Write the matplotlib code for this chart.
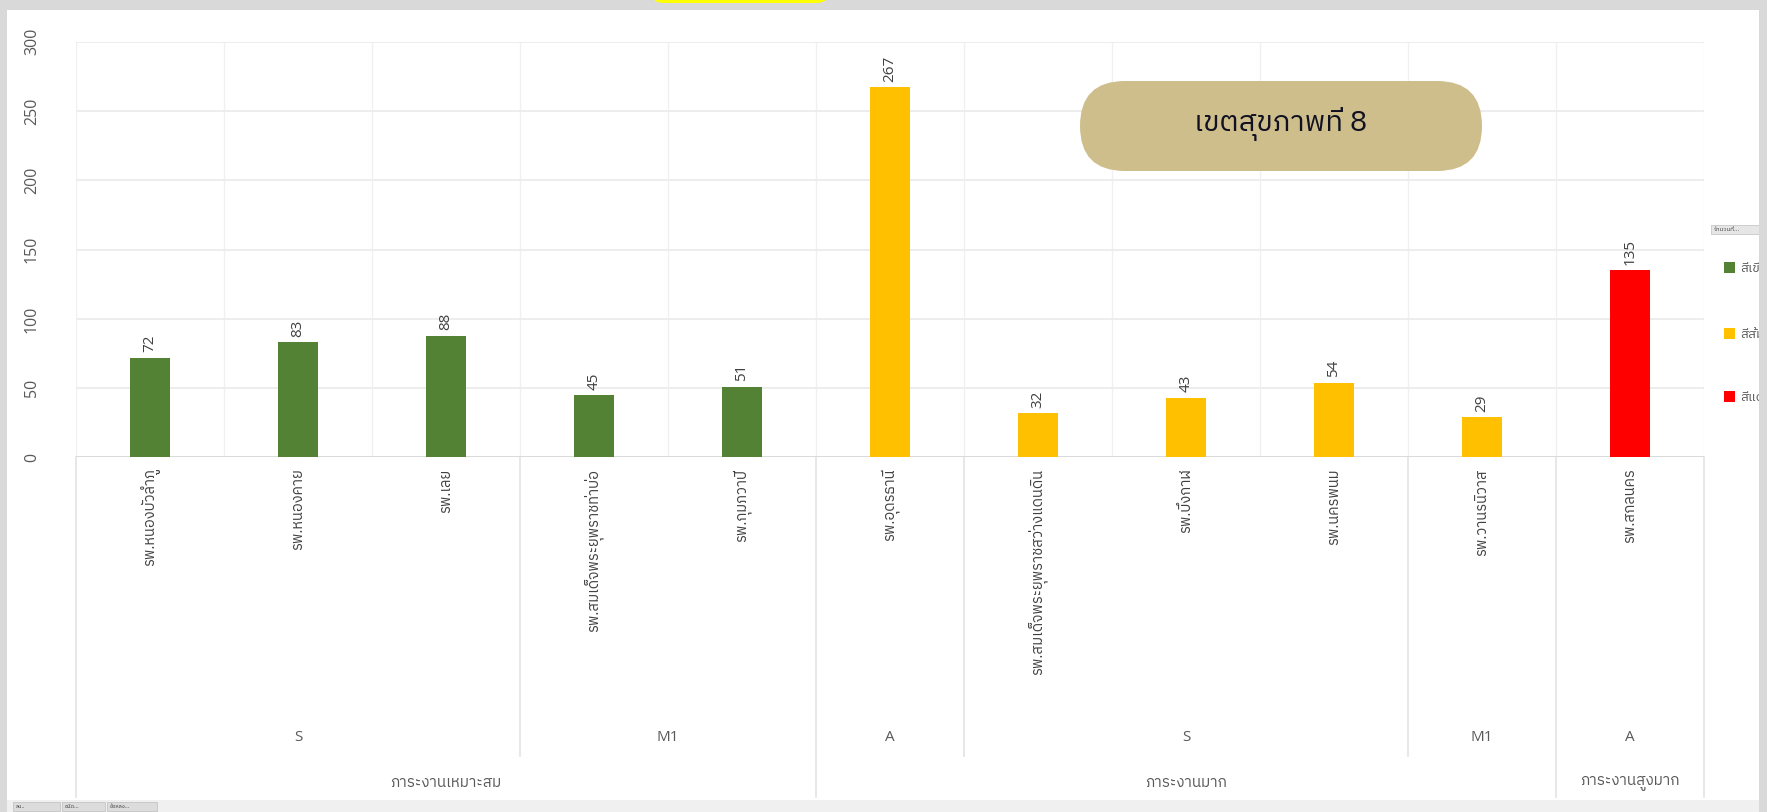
import matplotlib
matplotlib.use("Agg")
import matplotlib.pyplot as plt
import matplotlib.patches as mpatches
import matplotlib.transforms as mtransforms
from matplotlib import font_manager as fm
from matplotlib.ft2font import FT2Font
import numpy as np

# ---------------- data ----------------
hospitals = ["รพ.หนองบัวลำภู", "รพ.หนองคาย", "รพ.เลย", "รพ.สมเด็จพระยุพราชท่าบ่อ",
             "รพ.กุมภวาปี", "รพ.อุดรธานี", "รพ.สมเด็จพระยุพราชสว่างแดนดิน",
             "รพ.บึงกาฬ", "รพ.นครพนม", "รพ.วานรนิวาส", "รพ.สกลนคร"]
levels = ["S", "S", "S", "M1", "M1", "A", "S", "S", "S", "M1", "A"]
workload = ["ภาระงานเหมาะสม"] * 5 + ["ภาระงานมาก"] * 5 + ["ภาระงานสูงมาก"]
values = [72, 83, 88, 45, 51, 267, 32, 43, 54, 29, 135]
color_group = ["สีเขียว"] * 5 + ["สีส้ม"] * 5 + ["สีแดง"]
series_names = ["สีเขียว", "สีส้ม", "สีแดง"]
series_colors = {"สีเขียว": "#548235", "สีส้ม": "#FFC000", "สีแดง": "#FF0000"}
yticks = [0, 50, 100, 150, 200, 250, 300]
title = "เขตสุขภาพที่ 8"
legend_header = "จำนวนที่..."

# ---------------- fonts ----------------
def find_thai_font():
    cands = sorted(fm.fontManager.ttflist,
                   key=lambda f: (0 if "thai" in f.name.lower() else 1, f.name))
    for f in cands:
        if f.fname.lower().endswith((".ttc",)) and "thai" not in f.name.lower():
            continue
        try:
            cm = FT2Font(f.fname).get_charmap()
            if 0x0E01 in cm and 0x0E2A in cm:
                return f.name
        except Exception:
            pass
    return None

thai = find_thai_font()
thai_fam = ([thai] if thai else []) + ["DejaVu Sans"]
num_fam = ["Open Sans", "DejaVu Sans"]
plt.rcParams["font.family"] = thai_fam

W, H = 1767, 812
fig = plt.figure(figsize=(W / 100 + 0.0001, H / 100 + 0.0001), dpi=100)
fig.patch.set_facecolor("white")

ax_left, ax_right = 76, 1704
ax_top, ax_bot = 41.7, 457.5
ax = fig.add_axes([ax_left / W, 1 - ax_bot / H, (ax_right - ax_left) / W, (ax_bot - ax_top) / H])

x = np.arange(len(values))
cols = [series_colors[c] for c in color_group]
bars = ax.bar(x, values, width=0.275, color=cols, zorder=3)

ax.set_xlim(-0.5, len(values) - 0.5)
ax.set_ylim(0, 300)
ax.set_yticks(yticks)
ax.set_yticklabels([str(v) for v in yticks], rotation=90, va="center",
                   color="#595959", fontsize=11.5, family=num_fam)
ax.tick_params(axis="y", length=0, pad=26)
ax.set_xticks(x)
ax.set_xticklabels(hospitals, rotation=90, va="top", ha="center",
                   color="#404040", fontsize=10.5)
ax.tick_params(axis="x", length=0, pad=8)
ax.set_xticks(np.arange(-0.5, len(values), 0.5), minor=True)
ax.tick_params(axis="x", which="minor", length=0)

for s in ax.spines.values():
    s.set_visible(False)
ax.grid(axis="y", color="#ececec", linewidth=1.3, zorder=0)
ax.grid(axis="x", which="minor", color="#f0f0f0", linewidth=1.0, zorder=0)
ax.axhline(0, color="#d9d9d9", linewidth=1.3, zorder=2)

for xi, v in zip(x, values):
    ax.annotate(str(v), (xi, v), xytext=(0, 4), textcoords="offset points",
                rotation=90, ha="center", va="bottom", fontsize=11,
                color="#404040", family=num_fam)

# multi-level category axis
trans = mtransforms.blended_transform_factory(ax.transData, ax.transAxes)
axh = ax_bot - ax_top
def ay(py):
    return (ax_bot - py) / axh

def spans(lst, parent=None):
    out = []
    start = 0
    for i in range(1, len(lst) + 1):
        brk = i == len(lst) or lst[i] != lst[start] or (parent is not None and parent[i] != parent[i - 1])
        if brk:
            out.append((start, i - 1, lst[start]))
            start = i
    return out

lvl2 = spans(levels, workload)
lvl3 = spans(workload)
line_c = "#e3e3e3"
b3 = set([s for s, e, _ in lvl3] + [lvl3[-1][1] + 1])
b2 = set([s for s, e, _ in lvl2]) - b3
for b in b3:
    ax.plot([b - 0.5, b - 0.5], [0, ay(797)], transform=trans, color=line_c, lw=1.2, clip_on=False, zorder=1)
for b in b2:
    ax.plot([b - 0.5, b - 0.5], [0, ay(756)], transform=trans, color=line_c, lw=1.2, clip_on=False, zorder=1)
for s, e, lab in lvl2:
    ax.text((s + e) / 2, ay(737), lab, transform=trans, ha="center", va="center",
            fontsize=11, color="#595959", family=num_fam)
for s, e, lab in lvl3:
    ax.text((s + e) / 2, ay(783), lab, transform=trans, ha="center", va="center",
            fontsize=11, color="#595959")

# ---------------- decorations ----------------
def px_rect(x0, y0, x1, y1, **kw):
    r = mpatches.Rectangle((x0 / W, 1 - y1 / H), (x1 - x0) / W, (y1 - y0) / H,
                           transform=fig.transFigure, **kw)
    fig.add_artist(r)
    return r

# title pill
pill = mpatches.FancyBboxPatch((1080, H - 171), 402, 90,
                               boxstyle="round,pad=0,rounding_size=45",
                               transform=None, facecolor="#CDBE8B", edgecolor="none", zorder=4)
fig.add_artist(pill)
fig.text(1281 / W, 1 - 124 / H, title, ha="center", va="center", fontsize=21,
         color="#111122", zorder=5)

# legend (partly cut off by the frame, as in the reference)
px_rect(1711, 225, 1762, 234, facecolor="#e6e6e6", edgecolor="#c8c8c8", lw=0.6, zorder=5)
fig.text(1714 / W, 1 - 229.5 / H, legend_header, fontsize=4.5, color="#444444",
         va="center", ha="left", zorder=6)
for name, yc in zip(series_names, [268, 334, 397]):
    px_rect(1724, yc - 5.5, 1735, yc + 5.5, facecolor=series_colors[name], edgecolor="none", zorder=5)
    fig.text(1740 / W, 1 - yc / H, name, fontsize=9.5, color="#595959", va="center", ha="left", zorder=5)

# outer gray frame
gray = "#d9d9d9"
px_rect(0, 0, W, 10, facecolor=gray, edgecolor="none", zorder=20)
px_rect(0, 0, 7, H, facecolor=gray, edgecolor="none", zorder=20)
px_rect(1759, 0, W, H, facecolor=gray, edgecolor="none", zorder=20)
yel = mpatches.FancyBboxPatch((650, H - 3), 180, 30, boxstyle="round,pad=0,rounding_size=14",
                              transform=None, facecolor="#FFFF00", edgecolor="none", zorder=21)
fig.add_artist(yel)

# pivot field buttons
px_rect(7, 800, 1759, H, facecolor="#f0f0f0", edgecolor="none", zorder=19)
for (x0, x1, lab) in [(13, 60, "ลม.."), (62, 105, "ชนิด..."), (107, 157, "ข้อหลง...")]:
    px_rect(x0, 802, x1, 811, facecolor="#dcdcdc", edgecolor="#bdbdbd", lw=0.5, zorder=21)
    fig.text((x0 + 3) / W, 1 - 806.5 / H, lab, fontsize=4, color="#333333",
             va="center", ha="left", zorder=22)

fig.savefig("out.png", dpi=100)
